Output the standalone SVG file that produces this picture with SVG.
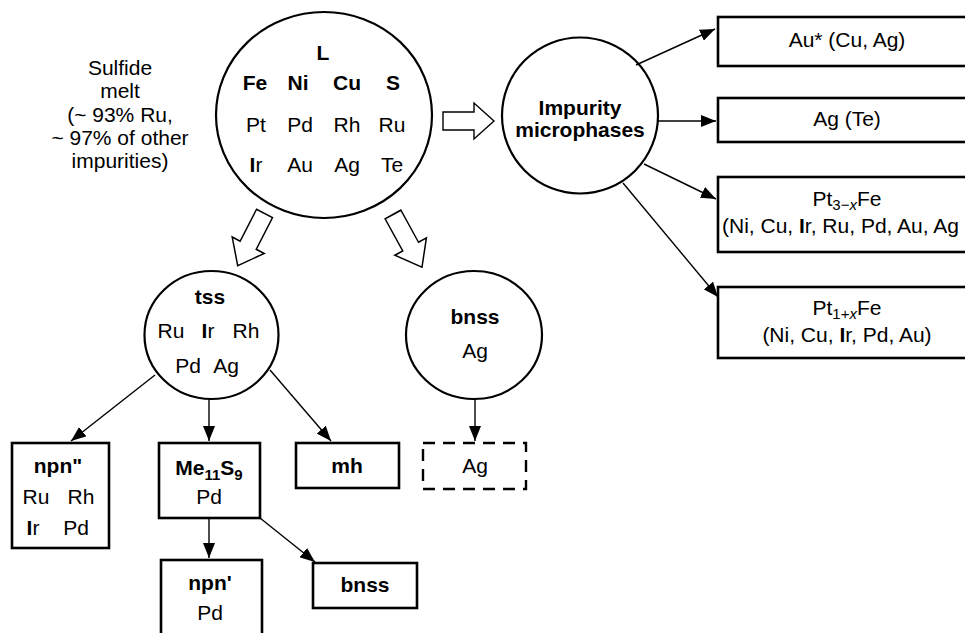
<svg xmlns="http://www.w3.org/2000/svg" width="965" height="633" viewBox="0 0 965 633">
<style>
text{font-family:"Liberation Sans",Arial,sans-serif;font-size:21px;fill:#000;text-anchor:middle}
.b{font-weight:bold}
.sub{font-size:15px}
.node{fill:#fff;stroke:#000;stroke-width:2.2}
.box{fill:#fff;stroke:#000;stroke-width:2.6}
.dash{fill:#fff;stroke:#000;stroke-width:2.4;stroke-dasharray:12 8}
.con{stroke:#000;stroke-width:1.4;fill:none;marker-end:url(#ah)}
.hollow{fill:#fff;stroke:#000;stroke-width:1.4}
</style>
<defs>
<marker id="ah" markerUnits="userSpaceOnUse" markerWidth="16" markerHeight="12" refX="15" refY="6" orient="auto">
<path d="M0,0 L15,6 L0,12 Z" fill="#000"/>
</marker>
<path id="ha" d="M0,-9 L31,-9 L31,-18 L51,0 L31,18 L31,9 L0,9 Z"/>
</defs>

<g id="label-sulfide">
<text x="120" y="75">Sulfide</text>
<text x="120" y="98">melt</text>
<text x="120" y="122">(~ 93% Ru,</text>
<text x="120" y="145">~ 97% of other</text>
<text x="120" y="168">impurities)</text>
</g>

<g id="node-L">
<ellipse class="node" cx="324" cy="115" rx="108" ry="103"/>
<text class="b" x="323" y="60">L</text>
<text class="b" x="255" y="90">Fe</text>
<text class="b" x="298" y="90">Ni</text>
<text class="b" x="347" y="90">Cu</text>
<text class="b" x="393" y="90">S</text>
<text x="256" y="132">Pt</text>
<text x="300" y="132">Pd</text>
<text x="347" y="132">Rh</text>
<text x="392" y="132">Ru</text>
<text x="256" y="172"><tspan class="b">I</tspan>r</text>
<text x="300" y="172">Au</text>
<text x="347" y="172">Ag</text>
<text x="392" y="172">Te</text>
</g>

<g id="hollow-arrows">
<use href="#ha" class="hollow" transform="translate(443,121)"/>
<use href="#ha" class="hollow" transform="translate(264.5,213.5) rotate(117.2) scale(1.15,1)"/>
<use href="#ha" class="hollow" transform="translate(393,214.5) rotate(61.2) scale(1.18,1)"/>
</g>

<g id="node-impurity">
<circle class="node" cx="580" cy="115.5" r="78"/>
<text class="b" x="580" y="115">Impurity</text>
<text class="b" x="580" y="137">microphases</text>
</g>

<g id="node-au">
<rect class="box" x="718" y="17" width="260" height="49"/>
<text x="847" y="47">Au* (Cu, Ag)</text>
</g>
<g id="node-agte">
<rect class="box" x="718" y="98" width="260" height="44"/>
<text x="847" y="126">Ag (Te)</text>
</g>
<g id="node-pt3fe">
<rect class="box" x="718" y="177" width="260" height="75"/>
<text x="847" y="206">Pt<tspan class="sub" dy="4">3−<tspan font-style="italic">x</tspan></tspan><tspan dy="-4">Fe</tspan></text>
<text x="722" y="233" style="text-anchor:start">(Ni, Cu, <tspan class="b">I</tspan>r, Ru, Pd, Au, Ag</text>
</g>
<g id="node-pt1fe">
<rect class="box" x="718" y="287" width="260" height="71"/>
<text x="847" y="315">Pt<tspan class="sub" dy="4">1+<tspan font-style="italic">x</tspan></tspan><tspan dy="-4">Fe</tspan></text>
<text x="847" y="342">(Ni, Cu, <tspan class="b">I</tspan>r, Pd, Au)</text>
</g>

<g id="node-tss">
<ellipse class="node" cx="211.5" cy="335" rx="67" ry="64"/>
<text class="b" x="210" y="304">tss</text>
<text x="171" y="338">Ru</text>
<text x="208" y="338"><tspan class="b">I</tspan>r</text>
<text x="246" y="338">Rh</text>
<text x="188" y="373">Pd</text>
<text x="226" y="373">Ag</text>
</g>

<g id="node-bnss-circle">
<ellipse class="node" cx="474" cy="335" rx="68" ry="64"/>
<text class="b" x="475" y="324">bnss</text>
<text x="475" y="358">Ag</text>
</g>

<g id="node-npn2">
<rect class="box" x="12" y="443" width="97" height="105"/>
<text class="b" x="58" y="473">npn"</text>
<text x="36" y="504">Ru</text>
<text x="81" y="504">Rh</text>
<text x="33" y="535"><tspan class="b">I</tspan>r</text>
<text x="76" y="535">Pd</text>
</g>

<g id="node-me11s9">
<rect class="box" x="159" y="443" width="101" height="75"/>
<text class="b" x="209" y="475">Me<tspan class="sub" dy="5">11</tspan><tspan dy="-5">S</tspan><tspan class="sub" dy="5">9</tspan></text>
<text x="209" y="504">Pd</text>
</g>

<g id="node-mh">
<rect class="box" x="296" y="443" width="103" height="45"/>
<text class="b" x="347" y="473">mh</text>
</g>

<g id="node-ag">
<rect class="dash" x="423" y="443" width="103" height="46"/>
<text x="475" y="473">Ag</text>
</g>

<g id="node-npn1">
<rect class="box" x="161" y="560" width="101" height="100"/>
<text class="b" x="210" y="590">npn'</text>
<text x="210" y="620">Pd</text>
</g>

<g id="node-bnss-box">
<rect class="box" x="313" y="563" width="104" height="45"/>
<text class="b" x="365" y="592">bnss</text>
</g>

<g id="connectors">
<line class="con" x1="636" y1="65" x2="715" y2="29"/>
<line class="con" x1="658" y1="121" x2="716" y2="121"/>
<line class="con" x1="644" y1="164" x2="716" y2="199"/>
<line class="con" x1="623" y1="183" x2="718" y2="297"/>
<line class="con" x1="155" y1="375" x2="71" y2="441"/>
<line class="con" x1="209" y1="399" x2="209" y2="441"/>
<line class="con" x1="270" y1="370" x2="331" y2="441"/>
<line class="con" x1="475" y1="399" x2="475" y2="441"/>
<line class="con" x1="209" y1="518" x2="209" y2="558"/>
<line class="con" x1="260" y1="518" x2="315" y2="562"/>
</g>
</svg>
